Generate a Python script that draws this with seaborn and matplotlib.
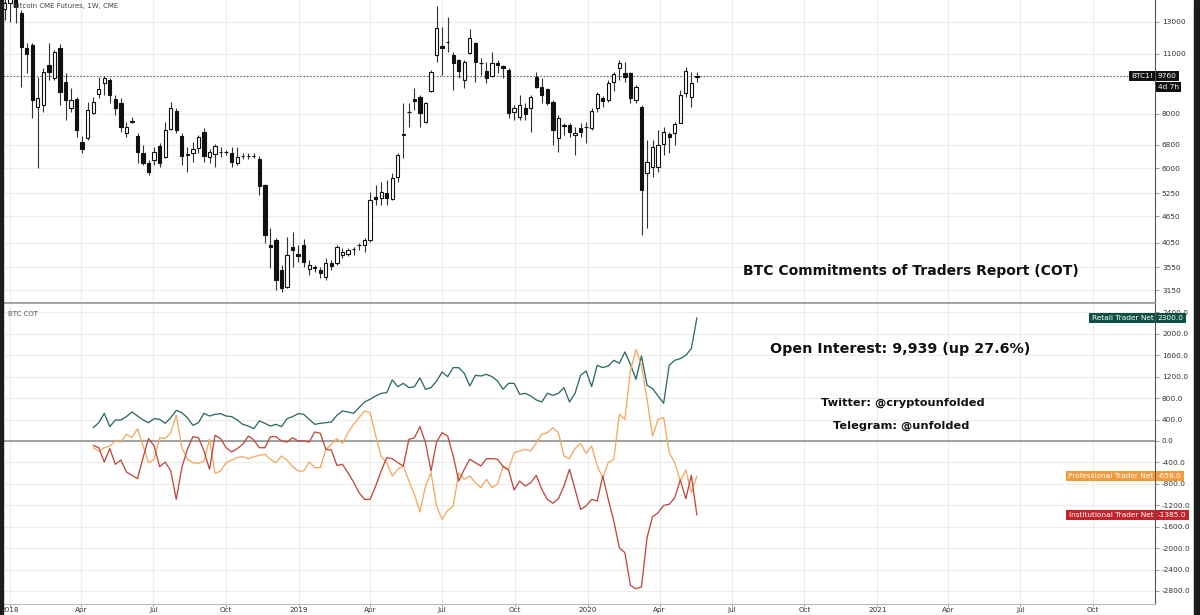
import numpy as np
import pandas as pd
import seaborn as sns
import matplotlib.pyplot as plt
import matplotlib.dates as mdates
import matplotlib.transforms as mtransforms
from matplotlib.ticker import FixedLocator, FixedFormatter, NullLocator
from matplotlib.patches import Rectangle

# --- Weekly candles, Bitcoin CME futures ---
candle_start = '2017-12-25'
candle_open = [13925, 14385, 16900, 13630, 11330, 11510, 8290, 8379, 10354, 9660,
               11330, 9460, 8250, 8650, 6890, 7035, 8030, 8880, 9415, 9564,
               8650, 8470, 7225, 7700, 7110, 6500, 6164, 6263, 6745, 6364,
               7380, 8120, 7110, 6450, 6500, 6675, 7265, 6364, 6465, 6530,
               6540, 6500, 6164, 6400, 6390, 6410, 6300, 5488, 3995, 4102,
               3500, 3200, 3955, 3810, 3995, 3520, 3550, 3500, 3373, 3632,
               3632, 3789, 3810, 3910, 3990, 3995, 4102, 5150, 5125, 5260,
               5097, 5725, 7150, 8075, 8650, 8740, 7660, 9020, 10917, 11450,
               11700, 10917, 10632, 9564, 11030, 11630, 10460, 10030, 9770, 10460,
               10300, 10084, 8070, 7865, 8250, 8250, 9720, 9215, 9120, 8515,
               7035, 7500, 7538, 7149, 7420, 7460, 7420, 8250, 8690, 8604,
               9460, 10190, 9925, 9925, 8604, 8290, 5847, 6040, 6040, 6820,
               7185, 7225, 7620, 8930, 8740, 9740]
candle_high = [15200, 17300, 17400, 13850, 11640, 11640, 9720, 10200, 11640, 11210,
               11570, 9925, 9170, 8740, 7100, 8515, 8740, 9720, 9770, 9660,
               8835, 8690, 7660, 7865, 7225, 6781, 6263, 6710, 6855, 7660,
               8515, 8250, 7225, 6710, 6890, 7149, 7420, 6640, 6820, 6710,
               6604, 6710, 6710, 6500, 6500, 6500, 6400, 5517, 4370, 4145,
               3594, 4168, 4280, 3995, 4125, 3690, 3594, 3555, 3730, 3690,
               3995, 3935, 3935, 3955, 4040, 4145, 5290, 5488, 5575, 5635,
               5847, 6500, 8470, 8470, 9170, 8835, 8515, 10084, 14150, 12660,
               13350, 11090, 10690, 10632, 12530, 11690, 10750, 10520, 11090, 10632,
               10354, 10190, 8379, 8835, 8470, 8835, 9980, 9660, 9170, 8604,
               7948, 7620, 7620, 7460, 7620, 7660, 8250, 8975, 8790, 9564,
               9980, 10632, 10520, 9980, 9315, 8379, 6963, 6963, 7341, 7460,
               7265, 7660, 9071, 10250, 9980, 9980]
candle_low = [13140, 13000, 12900, 9220, 9920, 7820, 6000, 8070, 9564, 9564,
              8379, 7740, 8070, 7075, 6500, 6963, 7990, 8690, 8835, 8470,
              7948, 7265, 7075, 7620, 6164, 6100, 5786, 6100, 6040, 6340,
              7341, 7225, 6100, 5880, 6200, 6500, 6200, 6164, 6040, 6364,
              6431, 6040, 6100, 6300, 6300, 6330, 5205, 4040, 3540, 3149,
              3115, 3180, 3555, 3650, 3555, 3409, 3465, 3355, 3320, 3500,
              3594, 3730, 3770, 3789, 3891, 3850, 4060, 4937, 4937, 4937,
              5069, 5575, 6330, 7460, 8160, 7460, 7620, 8975, 10520, 9821,
              11090, 9071, 9660, 9170, 11000, 9460, 9821, 9415, 9720, 9925,
              9660, 7820, 7740, 7740, 7740, 7265, 9170, 8470, 8379, 6781,
              6535, 7149, 7075, 6431, 7075, 6855, 7341, 8070, 8290, 8515,
              9020, 9564, 9460, 8470, 8470, 4212, 4370, 5725, 5880, 6431,
              6500, 6781, 7600, 8740, 8290, 9460]
candle_close = [14385, 16900, 14100, 11390, 10980, 8600, 8690, 9980, 9980, 11090,
                8975, 8604, 8604, 7341, 6640, 8160, 8515, 9120, 9660, 8835,
                8250, 7460, 7460, 7680, 6535, 6164, 5880, 6535, 6164, 7341,
                8250, 7341, 6400, 6470, 6640, 7075, 6400, 6535, 6745, 6545,
                6530, 6200, 6364, 6395, 6400, 6400, 5460, 4212, 3955, 3320,
                3180, 3789, 3891, 3770, 3650, 3594, 3540, 3450, 3632, 3575,
                3955, 3850, 3891, 3915, 4000, 4102, 5069, 5097, 5290, 5125,
                5695, 6431, 7200, 8090, 8560, 8030, 8470, 9980, 12600, 11330,
                11680, 10460, 10030, 10520, 11945, 10520, 10480, 9660, 10460, 10354,
                10190, 8030, 8250, 8379, 7990, 8740, 9215, 8835, 8470, 7341,
                7820, 7520, 7265, 7225, 7265, 7470, 8120, 8880, 8560, 9415,
                9873, 10460, 9720, 8690, 9215, 5344, 6200, 6710, 6781, 7265,
                7075, 7580, 8835, 10030, 9415, 9760]
last_price = 9760

# --- Weekly COT nets ---
cot_start = '2018-04-16'
retail_net = [249, 342, 517, 268, 392, 392, 455, 542, 467, 392,
              342, 417, 405, 330, 436, 573, 529, 436, 293, 342,
              517, 467, 498, 511, 467, 455, 392, 311, 280, 230,
              374, 330, 280, 311, 268, 417, 455, 511, 498, 405,
              311, 330, 342, 355, 479, 560, 542, 517, 623, 729,
              780, 841, 890, 903, 1140, 1015, 1077, 996, 1015, 1177,
              965, 996, 1121, 1289, 1202, 1370, 1370, 1264, 1027, 1227,
              1214, 1245, 1202, 1121, 965, 1077, 1077, 872, 890, 841,
              766, 729, 890, 853, 890, 996, 729, 890, 1227, 1308,
              1015, 1414, 1370, 1401, 1507, 1451, 1663, 1432, 1152, 1588,
              1040, 978, 841, 704, 1414, 1507, 1538, 1600, 1725, 2300]
professional_net = [-125, -187, -125, -93, 0, -19, 125, 62, 230, -93,
                    -405, -342, 62, 44, 156, 479, -125, -342, -405, -417,
                    -374, 31, -604, -560, -405, -355, -311, -293, -330, -293,
                    -268, -249, -342, -405, -280, -355, -479, -560, -560, -392,
                    -498, -498, -156, -60, 44, -44, 156, 311, 436, 560,
                    530, 100, -290, -405, -654, -529, -467, -750, -1000, -1326,
                    -841, -592, -1214, -1463, -1300, -1214, -600, -716, -654, -778,
                    -872, -716, -872, -809, -467, -529, -218, -187, -156, -187,
                    -31, 125, 156, 249, 156, -280, -330, -143, -44, -230,
                    -93, -467, -685, -405, -342, 498, 405, 1308, 1712, 1401,
                    778, 93, 405, 436, -218, -405, -747, -542, -965, -658]
institutional_net = [-81, -125, -392, -143, -436, -355, -579, -641, -704, -311,
                     44, -93, -479, -392, -560, -1090, -498, -156, 81, 62,
                     -187, -529, 106, 44, -125, -205, -143, -62, 93, 19,
                     -125, -125, 81, 81, 0, -19, 62, 0, 0, -19,
                     168, 143, -156, -168, -455, -436, -592, -766, -965, -1090,
                     -1090, -841, -560, -311, -330, -405, -467, 31, 62, 268,
                     -31, -560, -19, 156, 93, -280, -747, -529, -342, -405,
                     -467, -330, -330, -342, -479, -542, -915, -747, -841, -778,
                     -641, -903, -1090, -1164, -1077, -841, -529, -903, -1277, -1214,
                     -1090, -1121, -654, -1090, -1494, -1993, -2086, -2696, -2759, -2721,
                     -1806, -1414, -1339, -1202, -1183, -1059, -729, -1077, -641, -1385]

# --- Axis ticks ---
price_ticks = [3150, 3550, 4050, 4650, 5250, 6000, 6800, 8000, 11000, 13000]
cot_ticks = [-2800, -2400, -2000, -1600, -1200, -800, -400, 0, 400, 800, 1200, 1600, 2000, 2400]
date_tick_start = '2018-01-01'
date_tick_labels = ['2018', 'Apr', 'Jul', 'Oct', '2019', 'Apr', 'Jul', 'Oct',
                    '2020', 'Apr', 'Jul', 'Oct', '2021', 'Apr', 'Jul', 'Oct']

series_names = ['Retail Trader Net', 'Professional Trader Net', 'Institutional Trader Net']
line_colors = {'Retail Trader Net': '#2f6b66',
               'Professional Trader Net': '#f2aa62',
               'Institutional Trader Net': '#bf4a40'}
box_colors = {'Retail Trader Net': '#0e5142',
              'Professional Trader Net': '#f39a3c',
              'Institutional Trader Net': '#c3242b'}

# --- Build frames ---
candles = pd.DataFrame({
    'date': mdates.date2num(pd.date_range(candle_start, periods=len(candle_open), freq='7D')),
    'open': candle_open, 'high': candle_high, 'low': candle_low, 'close': candle_close,
})
cot = pd.DataFrame({
    'date': mdates.date2num(pd.date_range(cot_start, periods=len(retail_net), freq='7D')),
    series_names[0]: retail_net,
    series_names[1]: professional_net,
    series_names[2]: institutional_net,
})
cot_long = cot.melt(id_vars='date', var_name='series', value_name='net')

tick_dates = mdates.date2num(pd.date_range(date_tick_start, periods=len(date_tick_labels), freq='QS'))
x_left = mdates.date2num(pd.Timestamp('2017-12-23'))
x_right = mdates.date2num(pd.Timestamp('2021-12-18'))

# --- Plot settings ---
sns.set_theme(style='white')
plt.rcParams['font.family'] = ['DejaVu Sans']

W, H = 1200, 615
fig = plt.figure(figsize=(W / 100, H / 100), dpi=100, facecolor='white')
ax_price = fig.add_axes([3 / W, 1 - 303 / H, 1152 / W, 303 / H])
ax_cot = fig.add_axes([3 / W, 1 - 604 / H, 1152 / W, 301 / H])

grid_kw = dict(color='#ececec', linewidth=0.8)

for ax in (ax_price, ax_cot):
    ax.set_facecolor('white')
    ax.set_xlim(x_left, x_right)
    ax.xaxis.set_major_locator(FixedLocator(tick_dates))
    ax.yaxis.tick_right()
    ax.grid(True, **grid_kw)
    ax.set_axisbelow(True)
    ax.spines['left'].set_visible(False)
    ax.spines['right'].set_color('#555555')
    ax.spines['right'].set_linewidth(0.8)
    ax.tick_params(axis='y', which='major', right=True, length=3, width=0.6, color='#888888',
                   labelsize=5.3, labelcolor='#333333', pad=2)
    ax.set_xlabel('')
    ax.set_ylabel('')

# Candles
up = candles['close'] >= candles['open']
body_bottom = candles[['open', 'close']].min(axis=1)
body_height = (candles['close'] - candles['open']).abs()
ax_price.vlines(candles['date'], candles['low'], candles['high'], color='#333333', linewidth=0.8, zorder=2)
ax_price.bar(candles['date'][up], body_height[up], bottom=body_bottom[up], width=4.2,
             color='white', edgecolor='#111111', linewidth=0.8, zorder=3)
ax_price.bar(candles['date'][~up], body_height[~up], bottom=body_bottom[~up], width=4.2,
             color='#111111', edgecolor='#111111', linewidth=0.8, zorder=3)

ax_price.set_yscale('log')
ax_price.set_ylim(2941, 14604)
ax_price.yaxis.set_major_locator(FixedLocator(price_ticks))
ax_price.yaxis.set_major_formatter(FixedFormatter([str(t) for t in price_ticks]))
ax_price.yaxis.set_minor_locator(NullLocator())
ax_price.tick_params(axis='x', bottom=False, labelbottom=False)
ax_price.spines['top'].set_visible(False)
ax_price.spines['bottom'].set_color('#9a9a9a')
ax_price.spines['bottom'].set_linewidth(1.2)
ax_price.axhline(last_price, color='#666666', linewidth=0.8, linestyle=(0, (1.5, 1.5)), zorder=1)

# COT lines
sns.lineplot(data=cot_long, x='date', y='net', hue='series', palette=line_colors,
             linewidth=0.95, legend=False, ax=ax_cot, zorder=3)
ax_cot.set_ylim(-3044, 2577)
ax_cot.yaxis.set_major_locator(FixedLocator(cot_ticks))
ax_cot.yaxis.set_major_formatter(FixedFormatter([f'{t:.1f}' for t in cot_ticks]))
ax_cot.axhline(0, color='#8a8a8a', linewidth=1.1, zorder=2)
ax_cot.xaxis.set_major_formatter(FixedFormatter(date_tick_labels))
ax_cot.tick_params(axis='x', bottom=True, length=2, width=0.6, color='#999999',
                   labelsize=5.2, labelcolor='#333333', pad=0.5)
ax_cot.spines['top'].set_color('#9a9a9a')
ax_cot.spines['top'].set_linewidth(1.2)
ax_cot.spines['bottom'].set_color('#bbbbbb')
ax_cot.spines['bottom'].set_linewidth(0.8)
ax_cot.set_xlabel('')
ax_cot.set_ylabel('')


# Price-scale labels
def scale_label(ax, y, name, value_text, color, offset=0):
    trans = mtransforms.blended_transform_factory(ax.transAxes, ax.transData)
    box = dict(boxstyle='square,pad=0.3', fc=color, ec='none')
    if name:
        ax.annotate(name, xy=(0.9985, y), xycoords=trans, xytext=(0, offset), textcoords='offset pixels',
                    ha='right', va='center', fontsize=5.3, color='white', bbox=box,
                    zorder=6, annotation_clip=False)
    ax.annotate(value_text, xy=(1.0025, y), xycoords=trans, xytext=(0, offset), textcoords='offset pixels',
                ha='left', va='center', fontsize=5.3, color='white', bbox=box,
                zorder=6, annotation_clip=False)


scale_label(ax_price, last_price, 'BTC1!', str(last_price), '#111111')
scale_label(ax_price, last_price, None, '4d 7h', '#111111', offset=-11)
last_values = [retail_net[-1], professional_net[-1], institutional_net[-1]]
for name, val in zip(series_names, last_values):
    scale_label(ax_cot, val, name, f'{val:.1f}', box_colors[name])

# Panel legends and notes
fig.text(13 / W, 1 - 6 / H, 'Bitcoin CME Futures, 1W, CME', fontsize=5, color='#444444',
         ha='left', va='center', zorder=10)
fig.text(8 / W, 1 - 314 / H, 'BTC COT', fontsize=5, color='#555555', ha='left', va='center')

fig.text(911 / W, 1 - 271 / H, 'BTC Commitments of Traders Report (COT)', fontsize=10,
         fontweight='bold', color='#111111', ha='center', va='center')
fig.text(900 / W, 1 - 349 / H, 'Open Interest: 9,939 (up 27.6%)', fontsize=10.3,
         fontweight='bold', color='#111111', ha='center', va='center')
fig.text(903 / W, 1 - 403 / H, 'Twitter: @cryptounfolded', fontsize=8.2,
         fontweight='bold', color='#111111', ha='center', va='center')
fig.text(901 / W, 1 - 426 / H, 'Telegram: @unfolded', fontsize=8.2,
         fontweight='bold', color='#111111', ha='center', va='center')

# Dark screenshot edges
fig.patches.append(Rectangle((0, 0), 3 / W, 1, transform=fig.transFigure, color='#1c1c1c', zorder=20))
fig.patches.append(Rectangle((1194 / W, 0), 6 / W, 1, transform=fig.transFigure, color='#1c1c1c', zorder=20))

fig.savefig('out.png', dpi=100, facecolor='white')
